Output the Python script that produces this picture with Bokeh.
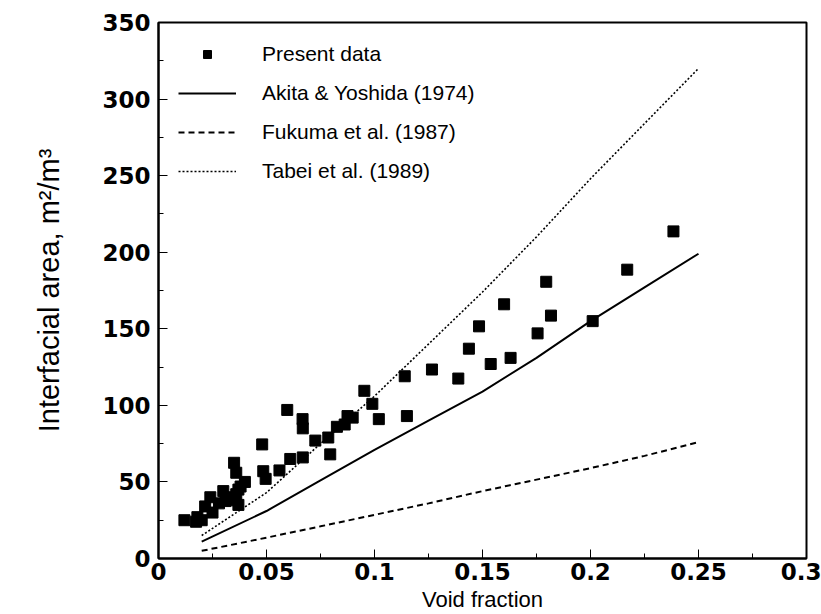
from bokeh.plotting import figure
from bokeh.models import Range1d, FixedTicker, Legend, LegendItem
from bokeh.embed import file_html
from bokeh.resources import INLINE

# Present data (void fraction, interfacial area m2/m3)
data_x = [0.012, 0.0174, 0.018, 0.020, 0.0216, 0.024, 0.025, 0.028, 0.030, 0.031,
          0.033, 0.034, 0.035, 0.036, 0.036, 0.037, 0.037, 0.038, 0.040, 0.048,
          0.0485, 0.0496, 0.056, 0.0596, 0.061, 0.0667, 0.0668, 0.0668, 0.0726, 0.0786,
          0.0795, 0.0826, 0.0862, 0.0875, 0.0899, 0.0953, 0.099, 0.102, 0.114, 0.115,
          0.1266, 0.1388, 0.1437, 0.1484, 0.1538, 0.160, 0.163, 0.1755, 0.1795, 0.1817,
          0.201, 0.217, 0.2384]
data_y = [25, 24, 27, 25, 34, 40, 30, 36, 44, 37.5,
          40, 38, 62.5, 56, 42, 45, 35, 47, 50, 74.5,
          57, 52, 57.5, 97, 65, 91, 85, 66, 77, 79,
          68, 86, 87.5, 93, 92, 109.5, 101, 91, 119, 93,
          123.4, 117.5, 137, 151.6, 127, 166, 131, 147, 180.7, 158.6,
          155, 188.6, 213.6]

# Correlations
curve_x = [0.02, 0.05, 0.075, 0.1, 0.125, 0.15, 0.175, 0.2, 0.225, 0.25]
akita_y = [11, 31, 51, 71, 90, 109, 131, 155, 177, 199]
fukuma_y = [5, 13.6, 21, 28.5, 36, 44, 51.5, 59, 67, 76]
tabei_y = [15, 43, 75, 106, 140, 174, 210, 248, 284, 320]

x_ticks = [0, 0.05, 0.1, 0.15, 0.2, 0.25, 0.3]
x_tick_labels = {0: "0", 0.05: "0.05", 0.1: "0.1", 0.15: "0.15", 0.2: "0.2", 0.25: "0.25", 0.3: "0.3"}
y_ticks = [0, 50, 100, 150, 200, 250, 300, 350]

p = figure(width=821, height=614, output_backend="svg", toolbar_location=None,
           x_range=Range1d(0, 0.3), y_range=Range1d(0, 350),
           min_border_left=158, min_border_right=15, min_border_top=22, min_border_bottom=52)
p.grid.visible = False
p.background_fill_color = "white"
p.border_fill_color = "white"
p.outline_line_color = "black"
p.outline_line_width = 2

for ax in (p.xaxis[0], p.yaxis[0]):
    ax.axis_line_width = 2
    ax.major_tick_in = 9
    ax.major_tick_out = 0
    ax.minor_tick_in = 5
    ax.minor_tick_out = 0
    ax.major_label_text_font = "DejaVu Sans"
    ax.major_label_text_font_style = "bold"
    ax.major_label_text_font_size = "23px"
    ax.major_label_text_color = "black"
    ax.axis_label_text_font = "Liberation Sans"
    ax.axis_label_text_font_style = "normal"
    ax.axis_label_text_color = "black"

p.xaxis.axis_label_text_font_size = "22px"
p.yaxis.axis_label_text_font_size = "29px"
p.xaxis.ticker = FixedTicker(ticks=x_ticks, minor_ticks=[0.025, 0.075, 0.125, 0.175, 0.225, 0.275])
p.xaxis.major_label_overrides = x_tick_labels
p.yaxis.ticker = FixedTicker(ticks=y_ticks, minor_ticks=[25, 75, 125, 175, 225, 275, 325])
p.xaxis.axis_label = "Void fraction"
p.yaxis.axis_label = "Interfacial area, m\u00b2/m\u00b3"
p.xaxis.major_label_standoff = 4
p.xaxis.axis_label_standoff = 4
p.yaxis.major_label_standoff = 8
p.yaxis.axis_label_standoff = 34

r_data = p.scatter(data_x, data_y, marker="square", size=11, color="black")
r_akita = p.line(curve_x, akita_y, line_color="black", line_width=2)
r_fukuma = p.line(curve_x, fukuma_y, line_color="black", line_width=2, line_dash="6 4")
r_tabei = p.line(curve_x, tabei_y, line_color="black", line_width=1.6, line_dash="2 2")

legend = Legend(items=[
    LegendItem(label="Present data", renderers=[r_data]),
    LegendItem(label="Akita & Yoshida (1974)", renderers=[r_akita]),
    LegendItem(label="Fukuma et al. (1987)", renderers=[r_fukuma]),
    LegendItem(label="Tabei et al. (1989)", renderers=[r_tabei]),
])
legend.border_line_color = None
legend.background_fill_alpha = 0
legend.label_text_font = "Liberation Sans"
legend.label_text_font_size = "21px"
legend.label_text_color = "black"
legend.glyph_width = 58
legend.glyph_height = 20
legend.label_height = 20
legend.spacing = 15
legend.label_standoff = 26
legend.padding = 4
legend.location = "top_left"
legend.margin = 20
p.add_layout(legend)

open("out.html", "w").write(file_html(p, INLINE))
